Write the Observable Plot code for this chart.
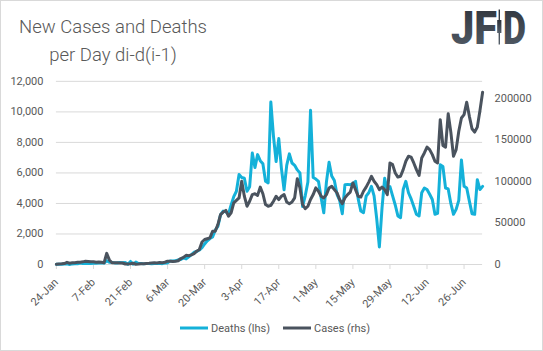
<!DOCTYPE html>
<html>
<head>
<meta charset="utf-8">
<script src="https://cdn.jsdelivr.net/npm/d3@7"></script>
<script src="https://cdn.jsdelivr.net/npm/@observablehq/plot@0.6"></script>
<style>
  html, body { margin: 0; padding: 0; background: #fff; }
  #frame { position: relative; width: 543px; height: 351px; box-sizing: border-box; border: 1px solid #d9d9d9; overflow: hidden; background: #fff; }
  #chart { position: absolute; left: -1px; top: -1px; }
  #overlay { position: absolute; left: -1px; top: -1px; pointer-events: none; }
</style>
</head>
<body>
<div id="frame">
  <div id="chart"></div>
  <svg id="overlay" width="543" height="351" xmlns="http://www.w3.org/2000/svg">
    <defs>
      <linearGradient id="logoGrad" x1="0" y1="0" x2="0" y2="1">
        <stop offset="0" stop-color="#2b3038"/>
        <stop offset="1" stop-color="#56606b"/>
      </linearGradient>
    </defs>
    <g font-family="Roboto, 'Open Sans', sans-serif" fill="#595959">
      <text x="113" y="33" text-anchor="middle" font-size="18.5" font-weight="300">New Cases and Deaths</text>
      <text x="113" y="61" text-anchor="middle" font-size="18.5" font-weight="300">per Day di-d(i-1)</text>
    </g>
    <g font-family="Roboto, 'DejaVu Sans', sans-serif" font-weight="900" fill="url(#logoGrad)">
      <text x="451" y="44" font-size="47" textLength="46" lengthAdjust="spacingAndGlyphs">JF</text>
      <text x="503" y="44" font-size="47" textLength="23" lengthAdjust="spacingAndGlyphs">D</text>
      <rect x="498.6" y="9.5" width="1.4" height="35" />
      <rect x="497.2" y="20" width="4.2" height="13" />
    </g>
    <g id="legend" font-family="Roboto, sans-serif" font-size="11" fill="#595959"></g>
  </svg>
</div>
<script>
// ---- data ----
const startDate = "2020-01-24";   // first day of the series, one value per day
const deaths = [
  10, 16, 15, 25, 50, 5, 40, 45,
  46, 100, 65, 66, 72, 70, 85,
  87, 100, 107, 90, 250, 150, 140,
  105, 98, 139, 115, 125, 20, 200,
  20, 160, 60, 64, 42, 58, 69,
  54, 67, 73, 86, 55, 101, 103,
  236, 230, 240, 311, 335, 432, 365,
  500, 650, 800, 850, 950, 1100, 1350,
  1550, 1700, 1800, 2250, 2500, 3250, 3500,
  3450, 3300, 3900, 4450, 4800, 5900, 5700,
  5650, 4800, 5100, 7300, 6350, 7200, 6800,
  6600, 5450, 5350, 10650, 8400, 6750, 8250,
  6300, 4900, 6500, 7250, 6650, 6500, 6200,
  6000, 3800, 4500, 5400, 10100, 5700, 5600,
  5450, 4370, 3390, 5400, 6700, 5800, 5500,
  4600, 4200, 3330, 5230, 5250, 5230, 5300,
  5450, 4300, 3500, 3390, 4475, 4700, 5120,
  4500, 3000, 1150, 3700, 5650, 4900, 5100,
  4500, 3900, 3180, 3070, 4910, 5450, 4700,
  4300, 3800, 3290, 3180, 4700, 5010, 4910,
  4600, 4260, 3290, 3350, 6530, 6420, 5010,
  4950, 4000, 3290, 3610, 4200, 6850, 5120,
  5010, 4150, 3330, 3290, 5560, 4910, 5120
];
const cases = [
  300, 700, 800, 1200, 2600, 1500, 2000, 2100,
  2600, 2800, 3200, 3900, 3700, 3200, 3400,
  2700, 3000, 2600, 2000, 13400, 5500, 2100,
  2000, 2000, 1800, 1800, 600, 600, 1000,
  1500, 300, 500, 900, 900, 1200, 1400,
  1800, 2200, 1900, 2500, 2200, 2700, 4000,
  3900, 3700, 4000, 4500, 7200, 8500, 11000,
  10500, 11500, 13000, 16000, 18000, 27000, 30000,
  31000, 32000, 40000, 40000, 48000, 60000, 63000,
  65000, 58000, 62000, 74000, 77000, 80000, 100000,
  82000, 70000, 76000, 84000, 85000, 83000, 93000,
  85000, 72000, 70000, 71000, 76000, 82000, 78000,
  82000, 84000, 75000, 73000, 75000, 80000, 103000,
  92000, 72000, 67000, 70000, 78000, 84000, 92000,
  88000, 82000, 80000, 84000, 92000, 94000, 90000,
  86000, 78000, 73000, 80000, 84000, 87000, 98000,
  90000, 82000, 81000, 88000, 93000, 99000, 106000,
  100000, 96000, 90000, 93000, 90000, 84000, 122000,
  120000, 110000, 105000, 106000, 114000, 124000, 130000,
  129000, 122000, 114000, 107000, 128000, 134000, 141000,
  138000, 132000, 124000, 122000, 174000, 143000, 141000,
  181000, 159000, 130000, 138000, 160000, 176000, 180000,
  195000, 178000, 163000, 159000, 165000, 185000, 207000
];
const leftTicks = [0, 2000, 4000, 6000, 8000, 10000, 12000];
const leftMax = 12000;
const rightTicks = [0, 50000, 100000, 150000, 200000];
const rightMax = 220000;
const xTickDates = ["2020-01-24","2020-02-07","2020-02-21","2020-03-06","2020-03-20","2020-04-03",
                    "2020-04-17","2020-05-01","2020-05-15","2020-05-29","2020-06-12","2020-06-26"];
const xTickLabels = ["24-Jan","7-Feb","21-Feb","6-Mar","20-Mar","3-Apr","17-Apr","1-May","15-May","29-May","12-Jun","26-Jun"];
const seriesNames = ["Deaths (lhs)", "Cases (rhs)"];
const seriesColors = ["#14b1d9", "#4a535e"];

// ---- build table ----
const start = new Date(startDate + "T00:00:00Z");
const rows = deaths.map((v, i) => ({ date: d3.utcDay.offset(start, i), deaths: v, cases: cases[i] }));
const k = leftMax / rightMax;
const tickDates = xTickDates.map(s => new Date(s + "T00:00:00Z"));
const labelOf = new Map(tickDates.map((d, i) => [+d, xTickLabels[i]]));

const chart = Plot.plot({
  width: 543,
  height: 320,
  marginLeft: 56,
  marginRight: 60,
  marginTop: 81,
  marginBottom: 55.5,
  style: { fontFamily: "Roboto, sans-serif", fontSize: "11px", color: "#595959", background: "transparent" },
  x: { type: "utc", domain: [start, rows[rows.length - 1].date] },
  y: { domain: [0, leftMax] },
  marks: [
    Plot.gridY(leftTicks.filter(d => d > 0), { stroke: "#d9d9d9", strokeOpacity: 1, strokeWidth: 1 }),
    Plot.ruleY([0], { stroke: "#d9d9d9", strokeWidth: 1 }),
    Plot.axisY(leftTicks, { anchor: "left", tickSize: 0, tickPadding: 13, tickFormat: d3.format(","), fill: "#595959", label: null }),
    Plot.axisY(rightTicks.map(v => v * k), { anchor: "right", tickSize: 0, tickPadding: 12, tickFormat: v => String(Math.round(v / k)), fill: "#595959", label: null }),
    Plot.axisX(tickDates, { anchor: "bottom", tickSize: 5, tickPadding: 11, tickRotate: -45, stroke: "#d9d9d9", fill: "#595959", tickFormat: d => labelOf.get(+d), label: null }),
    Plot.lineY(rows, { x: "date", y: "deaths", stroke: seriesColors[0], strokeWidth: 3, strokeLinejoin: "round" }),
    Plot.lineY(rows, { x: "date", y: d => d.cases * k, stroke: seriesColors[1], strokeWidth: 3, strokeLinejoin: "round" })
  ]
});
document.getElementById("chart").appendChild(chart);

// ---- legend ----
const ns = "http://www.w3.org/2000/svg";
const lg = document.getElementById("legend");
const legendX = [180, 283];
seriesNames.forEach((name, i) => {
  const ln = document.createElementNS(ns, "line");
  ln.setAttribute("x1", legendX[i]); ln.setAttribute("x2", legendX[i] + 28);
  ln.setAttribute("y1", 328); ln.setAttribute("y2", 328);
  ln.setAttribute("stroke", seriesColors[i]); ln.setAttribute("stroke-width", 3);
  lg.appendChild(ln);
  const t = document.createElementNS(ns, "text");
  t.setAttribute("x", legendX[i] + 31); t.setAttribute("y", 332);
  t.textContent = name;
  lg.appendChild(t);
});
</script>
</body>
</html>
